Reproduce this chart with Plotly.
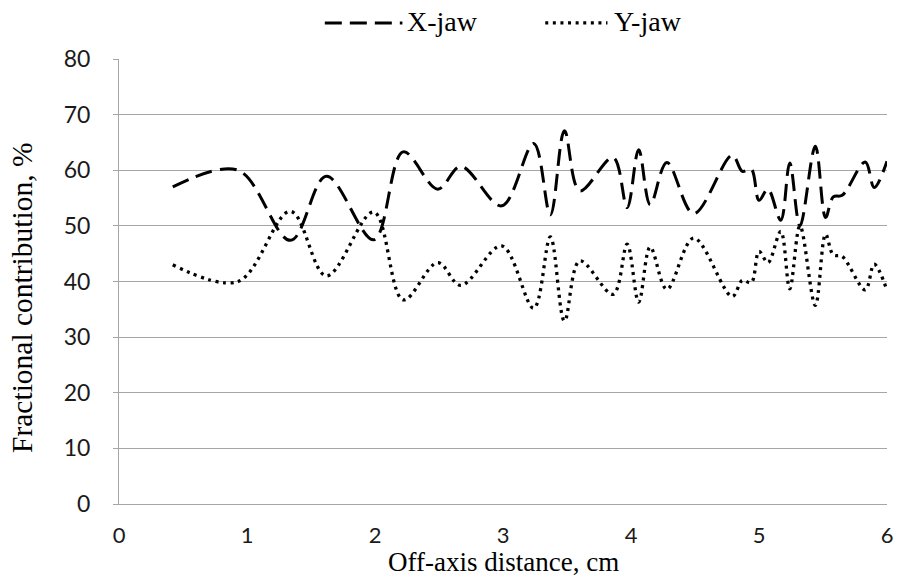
import plotly.graph_objects as go

x_cm = [0.42, 0.93, 1.34, 1.62, 1.99, 2.22, 2.49, 2.67, 2.99, 3.24,
        3.37, 3.48, 3.60, 3.86, 3.97, 4.06, 4.15, 4.28, 4.49, 4.79,
        4.87, 4.94, 5.00, 5.07, 5.17, 5.24, 5.32, 5.44, 5.52, 5.58,
        5.65, 5.83, 5.90, 6.00]
x_jaw = [57.0, 60.0, 47.4, 58.9, 47.5, 63.3, 56.6, 60.7, 53.6, 64.8,
         52.0, 67.1, 56.3, 62.3, 53.3, 63.7, 53.8, 61.4, 52.2, 62.7,
         59.8, 60.2, 54.6, 56.6, 51.0, 61.3, 50.0, 64.3, 51.5, 55.2,
         55.5, 61.5, 56.9, 61.6]
y_jaw = [43.0, 40.0, 52.6, 41.0, 52.5, 36.7, 43.4, 39.3, 46.4, 35.2,
         48.0, 32.9, 43.7, 37.7, 46.7, 36.3, 46.2, 38.6, 47.8, 37.3,
         40.2, 39.8, 45.4, 43.4, 49.0, 38.7, 50.0, 35.7, 48.5, 44.8,
         44.5, 38.5, 43.1, 38.4]
series_names = ["X-jaw", "Y-jaw"]
x_ticks = [0, 1, 2, 3, 4, 5, 6]
y_ticks = [0, 10, 20, 30, 40, 50, 60, 70, 80]
x_title = "Off-axis distance, cm"
y_title = "Fractional contribution, %"

serif = "Liberation Serif, Times New Roman, serif"
sans = "Lato, Open Sans, sans-serif"
grid = "#a6a6a6"
dash_x = "17px,8px"
dash_y = "3px,4.6px"

fig = go.Figure()
fig.add_trace(go.Scatter(
    x=x_cm, y=x_jaw, name=series_names[0], mode="lines", showlegend=False,
    line=dict(color="black", width=3, dash=dash_x, shape="spline", smoothing=1.0),
))
fig.add_trace(go.Scatter(
    x=x_cm, y=y_jaw, name=series_names[1], mode="lines", showlegend=False,
    line=dict(color="black", width=3.3, dash=dash_y, shape="spline", smoothing=1.0),
))

# legend drawn in paper coordinates (sample lines + labels)
leg_y = 1.081
legend_items = [
    (0.268, 0.369, 0.373, dash_x, 3.0, series_names[0]),
    (0.555, 0.636, 0.642, dash_y, 3.3, series_names[1]),
]
for x0, x1, xt, dsh, w, label in legend_items:
    fig.add_shape(type="line", xref="paper", yref="paper", x0=x0, x1=x1, y0=leg_y, y1=leg_y,
                  line=dict(color="black", width=w, dash=dsh))
    fig.add_annotation(xref="paper", yref="paper", x=xt, y=leg_y + 0.004, xanchor="left",
                       yanchor="middle", text=label, showarrow=False,
                       font=dict(family=serif, size=28, color="black"))

# axis titles placed like the reference
fig.add_annotation(xref="paper", yref="paper", x=-0.1263, y=0.463, xanchor="center",
                   yanchor="middle", textangle=-90, text=y_title, showarrow=False,
                   font=dict(family=serif, size=29.5, color="black"))
fig.add_annotation(xref="paper", yref="paper", x=0.5, y=-0.1663, xanchor="center",
                   yanchor="bottom", text=x_title, showarrow=False, borderpad=0,
                   font=dict(family=serif, size=27, color="black"))

fig.update_layout(
    width=903, height=578,
    margin=dict(l=119, r=16, t=59, b=74, autoexpand=False),
    paper_bgcolor="white", plot_bgcolor="white",
    showlegend=False,
    xaxis=dict(range=[0, 6], tickvals=x_ticks, showgrid=False, zeroline=False,
               showline=True, linecolor=grid, linewidth=1, automargin=False,
               ticks="", ticklabelstandoff=12,
               tickfont=dict(family=sans, size=22, color="#1a1a1a")),
    yaxis=dict(range=[0, 80], tickvals=y_ticks, showgrid=True, gridcolor=grid, gridwidth=1,
               zeroline=False, showline=True, linecolor=grid, linewidth=1, automargin=False,
               ticks="outside", ticklen=5, tickcolor=grid, ticklabelstandoff=18,
               tickfont=dict(family=sans, size=23, color="#1a1a1a")),
)

fig.write_html("out.html")
